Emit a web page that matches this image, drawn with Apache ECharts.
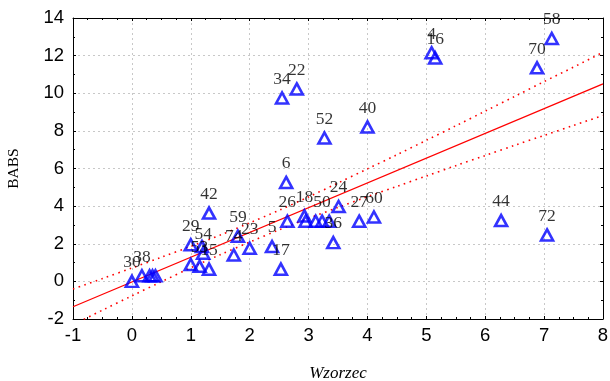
<!DOCTYPE html>
<html>
<head>
<meta charset="utf-8">
<script src="https://cdn.jsdelivr.net/npm/echarts@6/dist/echarts.min.js"></script>
<style>
html,body{margin:0;padding:0;background:#fff;}
#chart{width:610px;height:381px;}
</style>
</head>
<body>
<div id="chart"></div>
<script>
// Observed points (Wzorzec, BABS) and their case labels
var xVals = [0, 0.17, 0.3, 0.35, 0.4, 1.0, 1.19, 1.21, 1.0, 1.15, 1.31, 1.31, 1.8, 1.73, 2.0, 2.38, 2.53, 2.55, 2.8, 2.62, 2.64, 2.93, 2.95, 3.12, 3.23, 3.35, 3.51, 3.42, 3.27, 3.86, 4.11, 4.0, 5.09, 5.15, 6.27, 6.88, 7.13, 7.05];
var yVals = [0, 0.3, 0.3, 0.3, 0.3, 1.95, 1.85, 1.5, 0.9, 0.8, 0.65, 3.63, 2.4, 1.4, 1.76, 1.85, 0.65, 9.75, 10.23, 5.26, 3.2, 3.48, 3.2, 3.2, 3.2, 3.2, 3.98, 2.06, 7.62, 3.2, 3.42, 8.21, 12.15, 11.88, 3.23, 11.35, 12.91, 2.47];
var caseLabels = ['30', '38', '', '', '', '29', '', '54', '', '53', '15', '42', '59', '74', '23', '5', '17', '34', '22', '6', '26', '18', '', '', '50', '', '24', '36', '52', '27', '60', '40', '4', '16', '44', '70', '58', '72'];

// Regression line (read at the plot edges)
var fitX = [-1, 8];
var fitY = [-1.35, 10.5];

// Confidence band
var bandX = [-1, -0.5, 0, 0.5, 1, 1.5, 2, 2.5, 3, 3.5, 4, 4.5, 5, 5.5, 6, 6.5, 7, 7.5, 8];
var bandUpper = [-0.40, 0.15, 0.71, 1.28, 1.86, 2.46, 3.11, 3.78, 4.49, 5.23, 5.98, 6.73, 7.50, 8.27, 9.05, 9.83, 10.62, 11.39, 12.18];
var bandLower = [-2.30, -1.53, -0.77, -0.02, 0.72, 1.42, 2.09, 2.74, 3.35, 3.93, 4.50, 5.05, 5.60, 6.15, 6.69, 7.23, 7.76, 8.29, 8.82];

// Axis ticks
var xTicks = [-1, 0, 1, 2, 3, 4, 5, 6, 7, 8];
var yTicks = [-2, 0, 2, 4, 6, 8, 10, 12, 14];

var chart = echarts.init(document.getElementById('chart'));
var pts = xVals.map(function(x, i){ return {value:[x, yVals[i]], label:{formatter: caseLabels[i]}}; });
var tickFont = {fontFamily:'Liberation Sans, Arial, sans-serif', fontSize:18.5, color:'#000'};
var serif = 'Liberation Serif, Times New Roman, serif';

function pairs(xs, ys){ return xs.map(function(x,i){return [x, ys[i]];}); }

chart.setOption({
  animation:false,
  backgroundColor:'#fff',
  grid:{left:73, right:7, top:18, bottom:62, containLabel:false, outerBoundsMode:'none'},
  xAxis:[{
    type:'value', min:xTicks[0], max:xTicks[xTicks.length-1], interval:1,
    name:'Wzorzec', nameLocation:'middle', nameGap:46,
    nameTextStyle:{fontFamily:serif, fontStyle:'italic', fontSize:17, color:'#000'},
    axisLine:{onZero:false, lineStyle:{color:'#000', width:1}},
    axisTick:{inside:true, length:3, lineStyle:{color:'#000'}},
    minorTick:{show:true, splitNumber:4, length:2, lineStyle:{color:'#000'}},
    axisLabel:Object.assign({margin:7}, tickFont),
    splitLine:{show:true, lineStyle:{color:'#c8c8c8', type:[2,3], width:1}}
  },{
    type:'value', position:'top', min:xTicks[0], max:xTicks[xTicks.length-1], interval:1,
    axisLine:{onZero:false, lineStyle:{color:'#000', width:1}},
    axisTick:{inside:true, length:3, lineStyle:{color:'#000'}},
    minorTick:{show:true, splitNumber:4, length:2, lineStyle:{color:'#000'}},
    axisLabel:{show:false}, splitLine:{show:false}
  }],
  yAxis:[{
    type:'value', min:yTicks[0], max:yTicks[yTicks.length-1], interval:2,
    name:'BABS', nameLocation:'middle', nameGap:51, nameRotate:90,
    nameTextStyle:{fontFamily:serif, fontSize:15.5, color:'#000'},
    axisLine:{onZero:false, show:true, lineStyle:{color:'#000', width:1}},
    axisTick:{show:true, inside:true, length:3, lineStyle:{color:'#000'}},
    minorTick:{show:true, splitNumber:2, length:2, lineStyle:{color:'#000'}},
    axisLabel:Object.assign({margin:9}, tickFont),
    splitLine:{show:true, lineStyle:{color:'#c8c8c8', type:[2,3], width:1}}
  },{
    type:'value', position:'right', min:yTicks[0], max:yTicks[yTicks.length-1], interval:2,
    axisLine:{onZero:false, show:true, lineStyle:{color:'#000', width:1}},
    axisTick:{show:true, inside:true, length:3, lineStyle:{color:'#000'}},
    minorTick:{show:true, splitNumber:2, length:2, lineStyle:{color:'#000'}},
    axisLabel:{show:false}, splitLine:{show:false}
  }],
  series:[
    {type:'line', data:pairs(fitX, fitY), symbol:'none', clip:true,
     lineStyle:{color:'#ff0000', width:1.3}, z:3},
    {type:'line', data:pairs(bandX, bandUpper), symbol:'none', smooth:0.3, clip:true,
     lineStyle:{color:'#ff0000', width:1.6, type:[1.6,4.4]}, z:3},
    {type:'line', data:pairs(bandX, bandLower), symbol:'none', smooth:0.3, clip:true,
     lineStyle:{color:'#ff0000', width:1.6, type:[1.6,4.4]}, z:3},
    {type:'scatter', data:pts, symbol:'triangle', symbolSize:[12,11],
     itemStyle:{color:'rgba(255,255,255,0)', borderColor:'#0000ff', borderWidth:2.6},
     label:{show:true, position:'top', distance:3, fontFamily:serif, fontSize:17.5, color:'#000'},
     z:4}
  ]
});
</script>
</body>
</html>
